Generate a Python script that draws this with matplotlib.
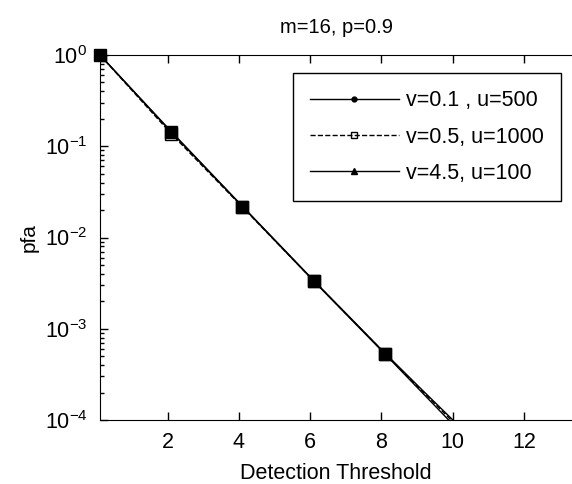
import matplotlib
matplotlib.use('Agg')
import matplotlib.pyplot as plt
from matplotlib.lines import Line2D

plt.rcParams['font.family'] = 'Liberation Sans'
plt.rcParams['mathtext.default'] = 'regular'

# detection threshold samples
threshold = [0.1, 2.1, 4.1, 6.1, 8.1, 9.1, 10.1]

# pfa for each (v, u) pair
pfa_v01 = [1.0, 0.143, 0.0218, 0.00333, 0.000528, 0.000208, 0.000082]
pfa_v05 = [1.0, 0.137, 0.0215, 0.00335, 0.000535, 0.000216, 0.000088]
pfa_v45 = [1.0, 0.145, 0.0220, 0.00338, 0.000540, 0.000222, 0.000092]

labels = ['v=0.1 , u=500', 'v=0.5, u=1000', 'v=4.5, u=100']

fig = plt.figure(figsize=(5.72, 4.84), dpi=100)
ax = fig.add_axes([100 / 572, 64 / 484, 472 / 572, 365 / 484])

mk = [0, 1, 2, 3, 4]
ax.plot(threshold, pfa_v01, '-', color='k', lw=1)
ax.plot(threshold, pfa_v01, ls='none', marker='s', ms=8, mfc='k', mec='k',
        markevery=mk, clip_on=False, zorder=3)
ax.plot(threshold, pfa_v05, '--', color='k', lw=1, marker='s', ms=8,
        mfc='none', mec='k', markevery=mk)
ax.plot(threshold, pfa_v45, '-', color='k', lw=1, marker='^', ms=4,
        mfc='k', mec='k', markevery=mk)

ax.set_yscale('log')
ax.set_xlim(0.1, 13.35)
ax.set_ylim(1e-4, 1)
ax.set_xticks([2, 4, 6, 8, 10, 12])
ax.set_yticks([1e-4, 1e-3, 1e-2, 1e-1, 1])

ax.tick_params(which='both', direction='in', top=True, right=False,
               labelsize=15.5, width=1)
ax.tick_params(which='major', length=6, pad=9)
ax.tick_params(which='minor', length=3)
ax.spines['right'].set_visible(False)

ax.set_title('m=16, p=0.9', fontsize=14.5, pad=16)
ax.set_xlabel('Detection Threshold', fontsize=15.5, labelpad=7)
ax.set_ylabel('pfa', fontsize=15, labelpad=4)

handles = [
    Line2D([], [], color='k', lw=1, ls='-', marker='.', ms=7),
    Line2D([], [], color='k', lw=1, ls='--', marker='s', ms=5, mfc='none'),
    Line2D([], [], color='k', lw=1, ls='-', marker='^', ms=4, mfc='k'),
]
leg = ax.legend(handles, labels, loc='upper right', fontsize=15.5,
                fancybox=False, edgecolor='k', framealpha=1,
                handlelength=4.1, handletextpad=0.35, borderpad=0.8,
                labelspacing=0.7, borderaxespad=0,
                bbox_to_anchor=(0.977, 0.95))
leg.get_frame().set_linewidth(1)

fig.savefig('out.png', dpi=100)
